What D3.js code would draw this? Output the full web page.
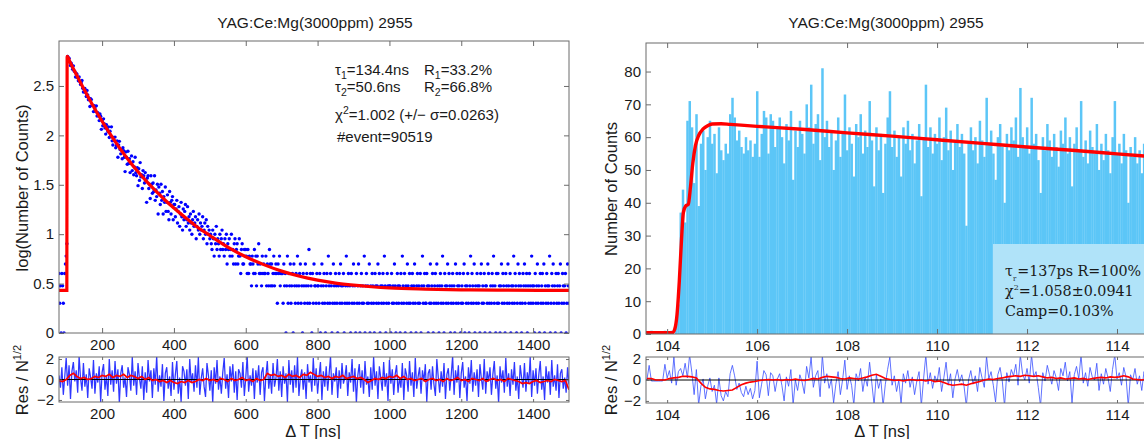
<!DOCTYPE html>
<html><head><meta charset="utf-8">
<script src="https://cdn.jsdelivr.net/npm/d3@7/dist/d3.min.js"></script>
<style>
body{margin:0;background:#fff;}
</style></head><body>
<svg id="c" width="1144" height="439"></svg>
<script>
// ---------------- DATA ----------------
const titleText = "YAG:Ce:Mg(3000ppm) 2955";
// left panel: counts per 2 ns bin starting at 80 ns
const leftStart = 80, leftStep = 2;
const leftCounts = [
4,2,3,1,4,3,2,1,4,5,6,8,
630,585,604,553,509,537,507,466,505,449,443,389,424,417,383,357,390,352,328,340,359,300,275,296,298,271,247,285,256,229,238,196,235,230,201,202,174,200,189,174,199,157,170,159,141,165,156,115,141,
125,147,131,119,103,128,116,109,122,95,110,98,122,88,80,95,88,96,75,79,88,60,80,87,72,65,71,58,75,70,60,43,68,60,51,69,52,58,42,52,62,44,54,40,48,60,42,39,47,31,
46,35,53,38,40,29,44,39,33,42,35,21,37,39,29,32,23,39,32,26,33,27,39,22,28,24,32,16,30,26,20,32,22,27,16,24,21,30,17,21,25,17,14,27,21,16,22,24,14,20,
20,15,18,22,13,17,19,12,16,21,15,11,18,14,17,20,12,14,19,13,15,11,16,13,10,14,17,12,13,15,9,12,14,11,16,10,13,11,12,15,9,11,13,10,14,8,12,10,11,9,
10,8,7,11,9,6,10,8,12,7,9,8,6,10,7,9,11,7,8,6,9,7,10,5,8,7,9,6,7,10,6,7,5,8,9,5,7,8,5,6,9,6,4,7,8,5,5,7,6,7,
6,4,7,4,6,5,5,3,6,5,4,7,4,6,3,6,5,8,4,5,4,3,6,4,5,4,4,6,3,5,4,3,7,5,3,5,3,4,6,3,4,5,4,2,5,4,6,3,4,4,
4,2,5,3,4,1,3,6,2,4,3,5,2,3,4,1,5,3,2,4,3,6,2,3,4,5,2,3,1,4,3,2,5,3,4,2,3,7,2,4,3,1,4,2,5,3,3,2,4,3,
3,2,4,1,3,5,2,3,4,2,1,3,4,2,6,3,2,4,3,1,2,5,3,2,4,3,2,1,3,4,2,5,3,2,3,4,1,2,3,6,2,3,4,2,3,1,4,2,3,5,
2,3,1,4,2,3,5,2,1,3,4,2,3,2,6,1,3,4,2,3,2,5,1,3,2,4,3,2,1,4,3,2,3,5,2,4,1,3,2,3,4,2,6,3,1,2,4,3,2,3,
3,1,4,2,3,2,5,3,1,2,4,3,2,3,1,4,2,6,3,2,4,1,3,2,5,3,2,4,2,1,3,4,2,3,5,2,1,3,4,2,3,2,4,1,3,6,2,3,4,2,
2,4,3,1,3,2,5,2,3,4,1,2,3,4,2,5,3,2,1,3,4,2,3,6,2,1,4,3,2,3,5,2,4,3,1,2,3,4,2,3,1,5,2,4,3,2,3,4,1,2,
3,2,4,5,1,3,2,3,4,2,1,3,6,2,4,3,2,5,1,3,2,4,3,2,3,1,4,5,2,3,2,4,1,3,3,2,5,4,2,1,3,2,4,3,6,2,3,1,4,2,
4,2,3,1,3,5,2,4,3,2,1,4,3,2,5,3,2,4,1,3,2,3,6,2,4,3,1,2,5,3,4,2,3,1,2,4,3,5,2,3,4,1,3,2,4,3,2,6,3,2,
3,1,4,2,3,5,2,3,1,4,2,3,4,2,5,1,3,2,4,3,2,3,6,1,2,4,3,5,2,3,1,4,2,3,4,2,3,5,1,2,4,3,2,3,4,1,2,5,3,2];
// left fit (log10 counts)
const leftFitT = [80,101.8,102.6,103,110,120,130,140,150,160,170,180,190,200,215,230,250,275,300,325,350,375,400,430,460,500,550,600,650,700,750,800,850,900,950,1000,1100,1200,1300,1500];
const leftFitLog = [0.431,0.431,2.79,2.80,2.748,2.675,2.603,2.533,2.464,2.396,2.331,2.266,2.204,2.143,2.055,1.972,1.866,1.744,1.631,1.529,1.435,1.346,1.265,1.173,1.086,0.987,0.869,0.771,0.692,0.626,0.574,0.535,0.505,0.484,0.468,0.456,0.444,0.437,0.434,0.431];
// left residuals, 4 ns step from 80 ns
const leftResStart = 80, leftResStep = 4;
const leftRes = [
0.4,-0.8,1.2,-1.5,0.3,2.1,-0.6,1.4,-1.9,0.8,1.7,-0.2,0.9,-1.3,2.3,0.1,-1.1,1.6,-0.7,0.5,
-1.8,1.1,0.2,-0.9,1.9,-1.4,0.6,-0.3,1.3,-2.2,0.7,1.5,-1.0,0.4,-1.6,2.0,-0.5,0.9,-1.2,1.8,
-0.4,1.0,-2.3,0.6,1.4,-0.8,0.2,-1.7,1.2,0.5,-1.1,2.2,-0.6,0.8,-1.5,1.6,0.1,-0.9,1.3,-2.0,
0.7,-1.3,1.9,-0.2,0.9,-1.8,1.1,-0.5,2.3,-1.2,0.4,-0.7,1.5,-2.1,0.6,1.2,-0.9,0.3,-1.6,1.7,
-1.0,0.5,1.8,-1.4,0.2,-2.2,1.3,0.8,-0.6,1.0,-1.9,2.0,-0.3,0.6,-1.2,1.4,-0.8,2.2,-1.5,0.1,
1.1,-0.7,-1.7,1.6,0.4,-1.1,0.9,-2.3,1.2,-0.4,1.9,-1.0,0.3,-1.4,0.7,2.1,-0.9,0.5,-1.8,1.3,
-0.2,1.5,-1.3,0.8,-2.0,1.0,0.6,-0.8,1.7,-1.6,0.2,2.3,-1.2,0.4,-0.6,1.1,-1.9,0.9,-0.3,1.4,
-1.5,0.7,1.2,-2.1,0.3,1.8,-0.9,0.5,-1.4,1.6,-0.7,0.1,2.0,-1.1,0.8,-1.7,1.3,-0.4,0.6,-2.2,
1.9,-0.5,0.9,-1.3,1.4,-0.8,2.2,-1.6,0.2,1.0,-1.0,0.7,-1.9,1.5,-0.3,0.4,-1.2,2.1,-0.6,1.1,
-1.4,0.3,1.7,-2.0,0.8,-0.7,1.3,-1.1,0.5,2.3,-1.5,0.6,-0.2,1.2,-1.8,0.9,-0.9,1.6,-0.4,0.2,
1.4,-1.6,0.7,-0.3,2.0,-1.2,1.1,-2.3,0.4,1.5,-0.8,0.9,-1.4,1.8,-0.5,0.3,-1.7,1.2,-1.0,2.2,
-0.6,0.8,-1.9,1.3,0.1,-1.1,1.7,-0.7,0.6,-2.1,1.9,-0.4,1.0,-1.5,0.5,1.4,-1.3,0.2,-0.8,1.6,
-2.0,1.1,0.4,-1.2,1.8,-0.6,0.7,-1.7,2.1,-0.9,0.3,1.2,-1.4,0.9,-0.2,1.5,-2.2,0.6,1.0,-1.0,
1.3,-0.5,-1.6,2.0,0.2,-1.3,0.8,-0.7,1.6,-1.9,0.5,1.1,-1.1,0.4,2.3,-1.5,0.9,-0.3,1.4,-1.8,
0.6,1.7,-0.8,0.3,-2.1,1.2,-0.4,1.9,-1.2,0.7,-0.6,1.0,-1.7,1.5,0.1,-1.0,2.0,-1.4,0.8,-0.2,
1.2,-1.5,0.5,1.8,-0.9,0.4,-2.3,1.3,-0.3,0.9,-1.3,2.1,-0.7,0.6,-1.6,1.0,-0.5,1.7,-1.1,0.3,
-1.9,1.4,0.2,-0.8,1.6,-1.2,0.7,-0.4,2.2,-1.7,0.9,-0.6,1.1,-1.4,0.5,1.8,-1.0,0.3,-2.0,1.3,
-0.3,0.8,-1.5,1.9,-0.7,0.4,-1.1,1.5,-1.8,0.6,1.0,-0.9,0.2,-1.3,1.2,-0.5];
// left smoothed residual, 10 ns step from 80 ns
const leftSmStart = 80, leftSmStep = 10;
const leftSmooth = [-0.1,-0.2,0.0,0.4,0.6,0.3,0.1,0.2,0.0,0.1,0.3,0.2,0.4,0.3,0.5,0.2,0.4,0.3,0.5,0.2,0.4,0.3,0.1,0.3,0.0,0.2,-0.1,0.0,-0.2,-0.1,-0.3,-0.1,-0.3,-0.4,-0.2,-0.3,-0.1,-0.3,-0.2,0.0,-0.1,0.1,-0.1,0.0,-0.2,0.1,0.0,-0.2,0.1,-0.1,0.0,0.2,-0.1,0.0,-0.2,0.1,-0.1,0.0,0.6,0.4,0.5,0.3,0.4,0.2,0.5,0.3,0.4,0.2,0.5,0.4,0.7,0.5,0.3,0.4,0.2,0.3,0.1,0.3,0.2,0.4,0.1,0.2,0.3,0.1,0.2,0.0,-0.3,-0.1,0.1,0.0,0.2,0.1,0.3,0.2,0.4,0.1,0.3,0.0,0.1,-0.1,0.0,0.1,-0.2,0.0,0.1,-0.1,0.0,-0.2,0.1,-0.1,0.0,0.2,-0.1,0.0,-0.2,0.1,0.0,-0.1,0.1,-0.2,0.0,0.1,-0.1,0.0,-0.2,0.1,0.0,-0.1,-0.2,-0.4,-0.3,-0.4,-0.2,-0.1,-0.3,-0.2,-0.1,-0.2,0.0,-0.1,-0.2,-0.1,-1.0];

// right panel: histogram, 0.05 ns bins centred from 103.55 ns
const rightStart = 103.55, rightStep = 0.05;
const rightCounts = [
0,0,1,0,0,0,0,0,1,0,0,1,0,
3,9,37,44,34,65,71,63,46,67,39,58,62,50,60,65,
58,61,49,63,56,53,58,55,67,72,66,59,62,57,55,60,56,59,54,58,
74,54,61,68,66,55,67,65,57,63,66,60,52,64,59,68,47,62,57,65,
61,55,70,63,76,58,64,67,53,81,60,65,57,62,50,59,66,54,61,73,
56,63,58,48,64,60,67,55,62,57,71,59,45,63,56,61,43,58,66,74,
57,62,54,60,48,63,58,65,56,61,52,59,64,42,60,76,57,63,55,61,
58,66,53,60,69,56,62,50,59,64,57,61,55,33,58,63,56,60,52,65,
59,54,72,58,62,55,47,60,64,57,40,61,56,63,59,66,54,75,60,57,
63,55,72,58,61,53,43,60,56,64,59,54,61,57,51,62,58,66,55,60,
45,58,63,56,71,54,59,52,62,57,55,64,50,58,53,61,56,49,60,71,
55,58,52,61,56,40,57,54,60,52,56,49,58,53];
const rightFitT = [103.53,104.12,104.17,104.22,104.27,104.32,104.36,104.41,104.47,104.52,104.57,104.63,104.7,104.8,104.9,105.0,105.2,105.4,106,107,108,109,110,111,112,113,114,115];
const rightFitY = [0.4,0.4,1.5,6,16,29,37,39,39.5,45,52,57.5,60.5,62.5,63.5,64,64.1,63.9,63.3,62.4,61.3,60.3,59.2,58.1,57,56,54.9,53.8];
const rightRes = [
0,1.4,-0.1,-0.1,-0.1,-0.1,-0.1,-0.1,1.5,0.2,0.9,-0.3,2.2,
-0.5,0.8,1.1,0.4,1.6,0.2,2.4,0.7,-1.4,1.0,-2.4,-0.6,0.1,-1.8,-0.6,0.2,
-1.1,-0.5,-2.3,0.2,-1.5,-2.0,-1.1,-1.6,0.6,1.4,0.4,-0.9,-0.3,-1.2,-1.6,-0.6,-1.4,-0.8,-1.8,-1.0,
1.8,-1.7,-0.4,0.9,0.5,-1.5,0.7,0.4,-1.1,0.1,0.6,-0.5,-2.0,0.3,-0.6,1.0,-2.4,0.0,-1.0,0.5,
-0.2,-1.3,1.3,0.2,2.2,-0.7,0.4,0.9,-1.6,2.4,-0.3,0.6,-0.8,0.1,-2.2,-0.4,0.8,-1.4,0.0,1.9,
-0.9,0.4,-0.5,-2.4,0.6,-0.1,1.1,-1.1,0.3,-0.6,1.7,-0.3,-2.4,0.5,-0.8,0.1,-2.5,-0.4,1.0,2.2,
-0.5,0.4,-1.1,0.0,-2.3,0.6,-0.3,0.9,-0.7,0.3,-1.4,-0.1,0.8,-2.5,0.1,2.4,-0.4,0.7,-0.8,0.4,
-0.2,1.2,-1.1,0.2,1.7,-0.5,0.6,-1.7,0.1,1.0,-0.2,0.5,-0.6,-2.5,0.0,0.9,-0.4,0.4,-1.1,1.2,
0.2,-0.7,2.3,0.1,0.8,-0.5,-2.1,0.5,1.2,-0.1,-2.5,0.7,-0.2,1.0,0.4,1.5,-0.5,2.4,0.6,0.0,
1.1,-0.3,2.4,0.3,0.8,-0.7,-2.5,0.7,-0.1,1.4,0.5,-0.4,0.9,0.2,-1.0,1.1,0.4,1.7,-0.1,0.8,
-2.2,0.5,1.3,0.1,2.4,-0.3,0.7,-0.6,1.2,0.3,0.0,1.6,-1.0,0.6,-0.4,1.1,0.2,-1.1,1.0,2.4,
0.1,0.7,-0.5,1.2,0.3,-2.5,0.5,0.0,1.1,-0.4,0.4,-1.0,0.8,-0.2];
const rightSmStart = 103.55, rightSmStep = 0.1;
const rightSmooth = [0.15,0.15,0.0,0.0,0.0,0.15,0.2,0.25,0.35,0.35,0.3,0.2,-0.3,-0.7,-0.85,-0.9,-1.0,-1.05,-1.0,-0.95,-0.7,-0.45,-0.3,-0.2,-0.15,-0.05,0.0,0.05,0.0,0.05,-0.05,0.05,0.0,0.1,0.0,-0.05,0.05,0.15,0.1,0.25,0.35,0.3,0.25,0.15,0.1,0.2,0.15,0.1,0.2,0.3,0.45,0.55,0.35,0.15,0.05,-0.05,0.0,-0.1,0.0,0.05,-0.05,0.0,-0.1,0.0,-0.15,-0.1,-0.25,-0.4,-0.5,-0.45,-0.4,-0.5,-0.35,-0.25,-0.15,0.0,0.1,0.05,0.15,0.2,0.3,0.35,0.4,0.35,0.45,0.4,0.35,0.4,0.3,0.2,0.25,0.15,0.2,0.1,0.15,0.2,0.1,0.15,0.05,0.15,0.2,0.25,0.2,0.3,0.25,0.3,0.4,0.3,0.1,0.05,0.0,0.1];

const leftXTicks = [200,400,600,800,1000,1200,1400];
const leftYTicks = [0,0.5,1,1.5,2,2.5];
const resTicks = [-2,0,2];
const rightXTicks = [104,106,108,110,112,114];
const rightYTicks = [0,10,20,30,40,50,60,70,80];
const leftNote = {tau1:"134.4ns",R1:"33.2%",tau2:"50.6ns",R2:"66.8%",chi:"=1.002 (+/− σ=0.0263)",ev:"#event=90519"};
const rightNote = {tau:"=137ps  R=100%",chi:"=1.058±0.0941",camp:"Camp=0.103%"};

// ---------------- DRAW ----------------
const FONT = "'Liberation Sans', Arial, Helvetica, sans-serif";
const FR = "#6b6b6b";
const svg = d3.select("#c").attr("font-family", FONT);
const defs = svg.append("defs");
function clip(id, x, y, w, h){ defs.append("clipPath").attr("id", id).append("rect").attr("x", x).attr("y", y).attr("width", w).attr("height", h); return `url(#${id})`; }

function styleAx(g){
  g.attr("font-family", FONT);
  g.select(".domain").remove();
  g.selectAll(".tick line").attr("stroke", FR);
  g.selectAll("text").attr("font-size", 15).attr("fill", "#1a1a1a");
}
function drawAxes(x, y, xTicks, yTicks, yFmt, tl){
  const [x0, x1] = x.range(), [yb, yt] = y.range();
  svg.append("g").attr("transform", `translate(0,${yb})`)
    .call(d3.axisBottom(x).tickValues(xTicks).tickSize(-tl).tickPadding(6).tickFormat(d3.format("d"))).call(styleAx);
  svg.append("g").attr("transform", `translate(0,${yt})`)
    .call(d3.axisTop(x).tickValues(xTicks).tickSize(-tl).tickFormat("")).call(styleAx);
  svg.append("g").attr("transform", `translate(${x0},0)`)
    .call(d3.axisLeft(y).tickValues(yTicks).tickSize(-tl).tickPadding(5).tickFormat(yFmt)).call(styleAx);
  svg.append("g").attr("transform", `translate(${x1},0)`)
    .call(d3.axisRight(y).tickValues(yTicks).tickSize(-tl).tickFormat("")).call(styleAx);
  svg.append("rect").attr("x", x0).attr("y", yt).attr("width", x1 - x0).attr("height", yb - yt)
    .attr("fill", "none").attr("stroke", FR).attr("stroke-width", 1);
}
const resFmt = d => d < 0 ? "−" + Math.abs(d) : String(d);

// ---- left top
const xL = d3.scaleLinear().domain([80, 1500]).range([59, 569]);
const yL = d3.scaleLinear().domain([0, 2.955]).range([333, 41]);
const cL = clip("cl", 59, 41, 510, 292);
const pts = leftCounts.map((c, i) => ({t: leftStart + i * leftStep, c})).filter(d => d.c > 0);
svg.append("g").attr("clip-path", cL).selectAll("circle").data(pts).join("circle")
  .attr("cx", d => xL(d.t)).attr("cy", d => yL(Math.log10(d.c))).attr("r", 1.7).attr("fill", "#0000ff");
svg.append("path").attr("clip-path", cL)
  .attr("d", d3.line().x((d, i) => xL(leftFitT[i])).y(d => yL(d)).curve(d3.curveMonotoneX)(leftFitLog))
  .attr("fill", "none").attr("stroke", "#ff0000").attr("stroke-width", 3.2);
drawAxes(xL, yL, leftXTicks, leftYTicks, d => String(d), 5);

// ---- left residual
const yLR = d3.scaleLinear().domain([-2.2, 2.2]).range([402, 357]);
const cLR = clip("clr", 59, 357, 510, 45);
svg.append("path").attr("clip-path", cLR)
  .attr("d", d3.line().x((d, i) => xL(leftResStart + i * leftResStep)).y(d => yLR(d))(leftRes))
  .attr("fill", "none").attr("stroke", "#0a14ff").attr("stroke-width", 1.25).attr("stroke-opacity", 0.85);
svg.append("line").attr("x1", 59).attr("x2", 569).attr("y1", yLR(0)).attr("y2", yLR(0)).attr("stroke", "#000").attr("stroke-width", 1.2);
svg.append("path").attr("clip-path", cLR)
  .attr("d", d3.line().x((d, i) => xL(leftSmStart + i * leftSmStep)).y(d => yLR(d))(leftSmooth))
  .attr("fill", "none").attr("stroke", "#ff0000").attr("stroke-width", 1.7);
drawAxes(xL, yLR, leftXTicks, resTicks, resFmt, 3);

// ---- right top
const xR = d3.scaleLinear().domain([103.53, 115]).range([646, 1162]);
const yR = d3.scaleLinear().domain([0, 88.7]).range([334, 43]);
const cR = clip("cr", 646, 43, 516, 291);
const bw = xR(rightStart + rightStep) - xR(rightStart);
svg.append("g").attr("clip-path", cR).selectAll("rect").data(rightCounts).join("rect")
  .attr("x", (d, i) => xR(rightStart + i * rightStep - rightStep / 2))
  .attr("width", bw + 0.25)
  .attr("y", d => yR(d)).attr("height", d => yR(0) - yR(d))
  .attr("fill", "#5cc6f7");
svg.append("path").attr("clip-path", cR)
  .attr("d", d3.line().x((d, i) => xR(rightFitT[i])).y(d => yR(d)).curve(d3.curveMonotoneX)(rightFitY))
  .attr("fill", "none").attr("stroke", "#ff0000").attr("stroke-width", 3.4);
// info box
svg.append("rect").attr("x", 993).attr("y", 244).attr("width", 170).attr("height", yR(0) - 244).attr("fill", "#b0e3f9");
drawAxes(xR, yR, rightXTicks, rightYTicks, d => String(d), 5);

// ---- right residual
const yRR = d3.scaleLinear().domain([-2.2, 2.2]).range([403, 357]);
const cRR = clip("crr", 646, 357, 516, 46);
svg.append("path").attr("clip-path", cRR)
  .attr("d", d3.line().x((d, i) => xR(rightStart + i * rightStep)).y(d => yRR(d))(rightRes))
  .attr("fill", "none").attr("stroke", "#3a50ff").attr("stroke-width", 1).attr("stroke-opacity", 0.8);
svg.append("line").attr("x1", 646).attr("x2", 1162).attr("y1", yRR(0)).attr("y2", yRR(0)).attr("stroke", "#000").attr("stroke-width", 1.2);
svg.append("path").attr("clip-path", cRR)
  .attr("d", d3.line().x((d, i) => xR(rightSmStart + i * rightSmStep)).y(d => yRR(d))(rightSmooth))
  .attr("fill", "none").attr("stroke", "#ff0000").attr("stroke-width", 1.6);
drawAxes(xR, yRR, rightXTicks, resTicks, resFmt, 3);

// ---- texts
function txt(x, y, s, size, anchor){ return svg.append("text").attr("x", x).attr("y", y).attr("font-size", size).attr("fill", "#1a1a1a").attr("text-anchor", anchor || "start").text(s); }
txt(315, 28, titleText, 15.5, "middle");
txt(886, 28, titleText, 15.5, "middle");

function rot(x, y, parts, size){
  const t = svg.append("text").attr("transform", `translate(${x},${y}) rotate(-90)`).attr("text-anchor", "middle").attr("font-size", size).attr("fill", "#1a1a1a");
  parts.forEach(p => { const s = t.append("tspan").text(p[0]); if (p[1]) s.attr("font-size", p[1]); if (p[2]) s.attr("dy", p[2]); });
}
rot(28, 188, [["log(Number of Counts)"]], 16.5);
rot(28, 380, [["Res / N"], ["1/2", 11, -7]], 16.5);
rot(617, 189, [["Number of Counts"]], 16.5);
rot(617, 380, [["Res / N"], ["1/2", 11, -7]], 16.5);
txt(313, 437, "Δ T [ns]", 16.5, "middle");
txt(882, 437, "Δ T [ns]", 16.5, "middle");

function rich(x, y, parts, size, fam){
  const t = svg.append("text").attr("x", x).attr("y", y).attr("font-size", size).attr("fill", "#1a1a1a");
  if (fam) t.attr("font-family", fam);
  parts.forEach(p => { const s = t.append("tspan").text(p[0]); if (p[1]) s.attr("font-size", p[1]); if (p[2]) s.attr("dy", p[2]); if (p[3]) s.attr("dx", p[3]); });
}
rich(335, 75, [["τ"], ["1", 10.5, 4], ["=" + leftNote.tau1, null, -4]], 15);
rich(424, 75, [["R"], ["1", 10.5, 4], ["=" + leftNote.R1, null, -4]], 15);
rich(335, 92, [["τ"], ["2", 10.5, 4], ["=" + leftNote.tau2, null, -4]], 15);
rich(424, 92, [["R"], ["2", 10.5, 4], ["=" + leftNote.R2, null, -4]], 15);
rich(335, 120, [["χ"], ["2", 10.5, -6], [leftNote.chi, null, 6]], 15);
rich(337, 142, [[leftNote.ev]], 15);
const SER = "'DejaVu Serif', 'Liberation Serif', serif";
rich(1005, 276, [["τ"], ["r", 7, 5], [rightNote.tau, null, -5, 1]], 14.3, SER);
rich(1005, 296, [["χ"], ["2", 8, -6], [rightNote.chi, null, 6]], 14.3, SER);
rich(1005, 316, [[rightNote.camp]], 14.3, SER);
</script>
</body></html>
